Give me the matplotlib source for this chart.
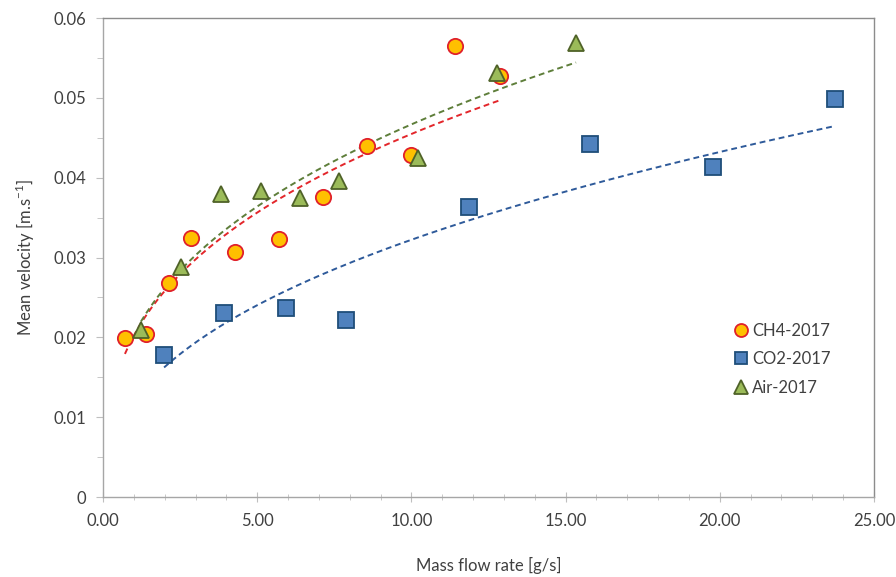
import numpy as np
import matplotlib
matplotlib.use('Agg')
from matplotlib import pyplot as plt
from matplotlib.ticker import MultipleLocator, FuncFormatter

plt.rcParams['font.family'] = ['Lato', 'DejaVu Sans']

# data
ch4_x = [0.71, 1.39, 2.14, 2.85, 4.28, 5.71, 7.13, 8.56, 9.99, 11.41, 12.87]
ch4_y = [0.0199, 0.0204, 0.0268, 0.0325, 0.0307, 0.0323, 0.0376, 0.0440, 0.0429, 0.0565, 0.0527]
co2_x = [1.98, 3.92, 5.93, 7.88, 11.87, 15.79, 19.78, 23.74]
co2_y = [0.0178, 0.0231, 0.0237, 0.0222, 0.0363, 0.0442, 0.0414, 0.0499]
air_x = [1.23, 2.53, 3.83, 5.12, 6.39, 7.65, 10.21, 12.78, 15.34]
air_y = [0.0209, 0.0288, 0.0380, 0.0383, 0.0375, 0.0396, 0.0425, 0.0531, 0.0569]

series = [
    ('CH4-2017', ch4_x, ch4_y, 'o', '#FFC000', '#E0202A', '#E3262B'),
    ('CO2-2017', co2_x, co2_y, 's', '#4F81BD', '#1F4E79', '#2E5A9A'),
    ('Air-2017', air_x, air_y, '^', '#9BBB59', '#4F6228', '#5E7E3A'),
]

fig = plt.figure(figsize=(8.96, 5.77), dpi=100)
ax = fig.add_axes([0.115, 0.1386, 0.8604, 0.8302])

for name, xs, ys, mk, fc, ec, lc in series:
    xs = np.array(xs)
    ys = np.array(ys)
    # power trendline (excel style, fit in log-log)
    b, lna = np.polyfit(np.log(xs), np.log(ys), 1)
    xt = np.linspace(xs.min(), xs.max(), 200)
    ax.plot(xt, np.exp(lna)*xt**b, color=lc, lw=1.4, dashes=(3, 2), zorder=2)
    ms = 11 if mk != '^' else 12
    ax.plot(xs, ys, linestyle='none', marker=mk, markersize=ms,
            markerfacecolor=fc, markeredgecolor=ec, markeredgewidth=1.3,
            label=name, zorder=3)

ax.set_xlim(0, 25)
ax.set_ylim(0, 0.06)
ax.xaxis.set_major_locator(MultipleLocator(5))
ax.xaxis.set_minor_locator(MultipleLocator(1))
ax.yaxis.set_major_locator(MultipleLocator(0.01))
ax.yaxis.set_minor_locator(MultipleLocator(0.005))
ax.xaxis.set_major_formatter(FuncFormatter(lambda v, p: '%.2f' % v))
ax.yaxis.set_major_formatter(FuncFormatter(lambda v, p: '0' if abs(v) < 1e-9 else '%.2f' % v))

for s in ax.spines.values():
    s.set_color('#A6A6A6')
    s.set_linewidth(1.0)
ax.spines['top'].set_color('#8C8C8C')
ax.spines['right'].set_color('#8C8C8C')

ax.tick_params(which='both', colors='#BFBFBF', labelcolor='#404040', labelsize=12)
ax.tick_params(axis='x', which='major', direction='inout', length=7, pad=8)
ax.tick_params(axis='x', which='minor', direction='inout', length=5)
ax.tick_params(axis='y', which='major', direction='out', length=5, pad=7)
ax.tick_params(axis='y', which='minor', direction='out', length=4)
ax.tick_params(top=False, right=False, which='both')

ax.set_xlabel('Mass flow rate [g/s]', fontsize=12, color='#404040', labelpad=20)
ax.set_ylabel(r'Mean velocity [m.s$^{\mathregular{-1}}$]', fontsize=12, color='#404040', labelpad=12)

leg = ax.legend(loc='upper left', bbox_to_anchor=(0.795, 0.395), frameon=False,
                fontsize=12, handletextpad=0.05, labelspacing=0.75, handlelength=1.2,
                markerscale=0.85)
for t in leg.get_texts():
    t.set_color('#404040')

plt.savefig('out.png', dpi=100)
